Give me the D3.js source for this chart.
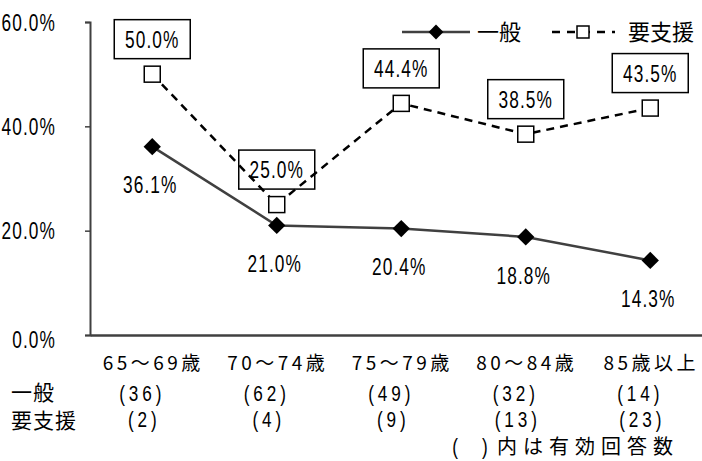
<!DOCTYPE html>
<html>
<head>
<meta charset="utf-8">
<script src="https://cdn.jsdelivr.net/npm/d3@7"></script>
<style>
  body { margin: 0; background: #fff; }
  text { font-family: "Noto Sans CJK JP", "Noto Sans", sans-serif; fill: #000; }
  text.num { font-family: "Liberation Sans", Arial, sans-serif; }
</style>
</head>
<body>
<div id="chart"></div>
<script>
// data
var categories = ["65～69歳", "70～74歳", "75～79歳", "80～84歳", "85歳以上"];
var ippan = [0.361, 0.210, 0.204, 0.188, 0.143];
var youshien = [0.500, 0.250, 0.444, 0.385, 0.435];
var ippanN = ["(36)", "(62)", "(49)", "(32)", "(14)"];
var youshienN = ["(2)", "(4)", "(9)", "(13)", "(23)"];
var yTicks = [0, 0.2, 0.4, 0.6];

var svgWidth = 702;
var svgHeight = 461;
var SX = 0.72; // narrow half-width digits

var svg = d3.select("#chart")
  .append("svg")
  .attr("width", svgWidth)
  .attr("height", svgHeight);

var x = d3.scaleBand()
  .domain(categories)
  .range([90, 712.5])
  .padding(0);

var y = d3.scaleLinear()
  .domain([0, 0.6])
  .range([335, 22]);

var cx = function (i) { return x(categories[i]) + x.bandwidth() / 2; };
var pct = d3.format(".1%");

// narrow numeric text
function narrowText(parent, px, py, str, anchor, size, spacing, sx) {
  return parent.append("text")
    .attr("class", "num")
    .attr("transform", "translate(" + px + "," + py + ") scale(" + (sx || SX) + ",1)")
    .attr("text-anchor", anchor)
    .attr("dy", "0.36em")
    .attr("font-size", size + "px")
    .attr("letter-spacing", (spacing || 0) + "px")
    .text(str);
}

// y axis
var yAxis = svg.append("g")
  .attr("transform", "translate(90,0)")
  .call(d3.axisLeft(y).tickValues(yTicks).tickSize(5).tickFormat(""));
yAxis.select(".domain").attr("stroke", "#404040").attr("stroke-width", 2);
yAxis.selectAll(".tick line").attr("stroke", "#404040").attr("stroke-width", 1.5);
yTicks.forEach(function (t) {
  narrowText(svg, 56, y(t) + (t === 0 ? 4 : 0), pct(t), "end", 24, 1.5);
});

// x axis
var xAxis = svg.append("g")
  .attr("transform", "translate(0,335)")
  .call(d3.axisBottom(x).tickSize(0).tickFormat(""));
xAxis.select(".domain").attr("stroke", "#404040").attr("stroke-width", 2.5);

categories.forEach(function (c, i) {
  svg.append("text")
    .attr("x", cx(i) + 1)
    .attr("y", 363)
    .attr("dy", "0.36em")
    .attr("text-anchor", "middle")
    .attr("font-size", "19px")
    .attr("letter-spacing", "3.5px")
    .text(c);
});

// sample size rows
svg.append("text").attr("x", 11).attr("y", 392).attr("dy", "0.36em")
  .attr("font-size", "21px").attr("letter-spacing", "1px").text("一般");
svg.append("text").attr("x", 11).attr("y", 420).attr("dy", "0.36em")
  .attr("font-size", "21px").attr("letter-spacing", "1px").text("要支援");
ippanN.forEach(function (s, i) { narrowText(svg, cx(i) - 10, 393, s, "middle", 22, 5, 0.78); });
youshienN.forEach(function (s, i) { narrowText(svg, cx(i) - 8, 419, s, "middle", 22, 5, 0.78); });

narrowText(svg, 470, 446, "(\u00a0\u00a0\u00a0\u00a0\u00a0)", "middle", 22, 0, 0.78);
svg.append("text")
  .attr("x", 497).attr("y", 447).attr("dy", "0.36em")
  .attr("font-size", "20px")
  .attr("letter-spacing", "6px")
  .text("内は有効回答数");

// lines
var line = d3.line()
  .x(function (d, i) { return cx(i); })
  .y(function (d) { return y(d); });

svg.append("path")
  .datum(youshien)
  .attr("d", line)
  .attr("fill", "none")
  .attr("stroke", "#000")
  .attr("stroke-width", 2.5)
  .attr("stroke-dasharray", "8,6");

svg.append("path")
  .datum(ippan)
  .attr("d", line)
  .attr("fill", "none")
  .attr("stroke", "#404040")
  .attr("stroke-width", 2.5);

// markers
var diamond = d3.symbol().type(d3.symbolSquare).size(150);
svg.selectAll(".dia")
  .data(ippan)
  .enter()
  .append("path")
  .attr("class", "dia")
  .attr("d", diamond)
  .attr("transform", function (d, i) { return "translate(" + cx(i) + "," + y(d) + ") rotate(45)"; })
  .attr("fill", "#000");

svg.selectAll(".sq")
  .data(youshien)
  .enter()
  .append("rect")
  .attr("class", "sq")
  .attr("x", function (d, i) { return cx(i) - 8; })
  .attr("y", function (d) { return y(d) - 8; })
  .attr("width", 16)
  .attr("height", 16)
  .attr("fill", "#fff")
  .attr("stroke", "#000")
  .attr("stroke-width", 1.5);

// labels
ippan.forEach(function (v, i) {
  narrowText(svg, cx(i) - 2, y(v) + 38, pct(v), "middle", 24, 1.5);
});

youshien.forEach(function (v, i) {
  svg.append("rect")
    .attr("x", cx(i) - 38)
    .attr("y", y(v) - 35 - 19.5)
    .attr("width", 76)
    .attr("height", 39)
    .attr("fill", "none")
    .attr("stroke", "#000")
    .attr("stroke-width", 1.5);
  narrowText(svg, cx(i), y(v) - 35, pct(v), "middle", 24, 1.5);
});

// legend
var lg = svg.append("g");
lg.append("line").attr("x1", 402).attr("x2", 470).attr("y1", 32).attr("y2", 32)
  .attr("stroke", "#404040").attr("stroke-width", 2.5);
lg.append("path").attr("d", d3.symbol().type(d3.symbolSquare).size(110))
  .attr("transform", "translate(436,32) rotate(45)").attr("fill", "#000");
lg.append("text").attr("x", 477).attr("y", 32).attr("dy", "0.36em")
  .attr("font-size", "22px").text("一般");

lg.append("line").attr("x1", 552).attr("x2", 615).attr("y1", 32).attr("y2", 32)
  .attr("stroke", "#000").attr("stroke-width", 2.5).attr("stroke-dasharray", "8,7");
lg.append("rect").attr("x", 577).attr("y", 26).attr("width", 12).attr("height", 12)
  .attr("fill", "#fff").attr("stroke", "#000").attr("stroke-width", 1.5);
lg.append("text").attr("x", 628).attr("y", 32).attr("dy", "0.36em")
  .attr("font-size", "22px").text("要支援");
</script>
</body>
</html>
